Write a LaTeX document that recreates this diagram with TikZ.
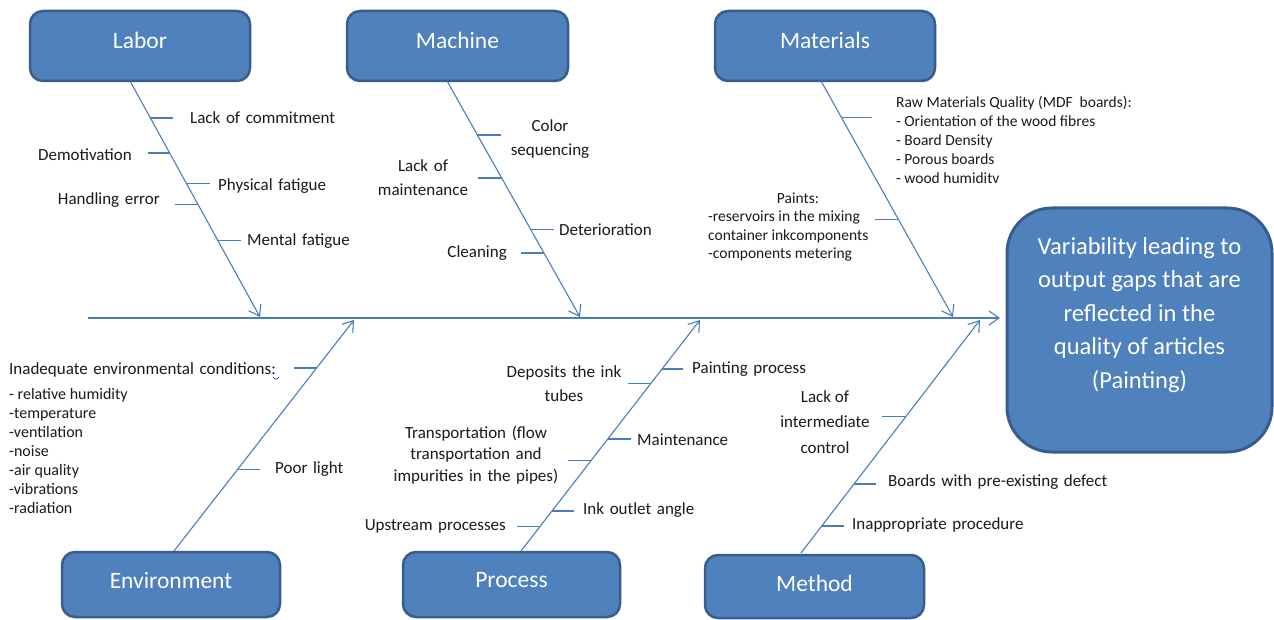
\documentclass[tikz,border=0pt]{standalone}
\usepackage{fontspec}
\setmainfont{Carlito}
\usetikzlibrary{arrows.meta,calc}
\definecolor{boxfill}{HTML}{4F81BD}
\definecolor{boxline}{HTML}{385D8A}
\definecolor{bone}{HTML}{4A7EBB}
\definecolor{txt}{HTML}{1A1A1A}
\definecolor{squig}{HTML}{2B3FD8}
\newcommand{\mywidesp}{\spaceskip=0.33em plus 0.1em\relax}
\begin{document}
\begin{tikzpicture}[x=1pt,y=-1pt,
 catbox/.style={draw=boxline, line width=2.5pt, fill=boxfill, rounded corners=13pt, inner sep=0pt},
 cattext/.style={text=white, font=\fontsize{23.5}{28}\selectfont, inner sep=0pt},
 bonepath/.style={draw=bone, line width=1.1pt},
 bonearrow/.style={bonepath, -{Straight Barb[length=10pt,width=14pt,line width=1.1pt]}},
 tickline/.style={draw=bone, line width=1.1pt},
 lbl/.style={text=txt, font=\fontsize{17}{24}\selectfont\mywidesp, inner sep=0pt},
 sm/.style={text=txt, font=\fontsize{15.5}{19}\selectfont, inner sep=0pt, align=left},
]
\fill[white] (0,0) rectangle (1274,620);
\useasboundingbox (0,0) rectangle (1274,620);

% category boxes
\node[catbox, minimum width=220pt, minimum height=70pt] (labor) at (140,46) {};
\node[cattext] (laborT) at (140,40) {Labor};
\node[catbox, minimum width=221pt, minimum height=70pt] (machine) at (457.5,46) {};
\node[cattext] (machineT) at (457.5,40) {Machine};
\node[catbox, minimum width=220pt, minimum height=70pt] (materials) at (825,46) {};
\node[cattext] (materialsT) at (825,40) {Materials};
\node[catbox, minimum width=218pt, minimum height=65pt] (env) at (171,584.5) {};
\node[cattext] (envT) at (171,580) {Environment};
\node[catbox, minimum width=217pt, minimum height=65pt] (process) at (511.5,584.5) {};
\node[cattext] (processT) at (511.5,580) {Process};
\node[catbox, minimum width=219pt, minimum height=63pt] (method) at (814.5,586.5) {};
\node[cattext] (methodT) at (814.5,583) {Method};

% effect box
\node[catbox, line width=3pt, rounded corners=45pt, minimum width=265pt, minimum height=244pt] (effect) at (1139.5,330) {};
\node[text=white, font=\fontsize{24.5}{33.5}\selectfont, align=center, inner sep=0pt] (effectT) at (1139.5,315)
 {Variability leading to\\output gaps that are\\reflected in the\\quality of articles\\(Painting)};

% spine
\coordinate (S0) at (88,318);
\coordinate (S1) at (1000,318);
\draw[bonearrow] (S0) -- (S1);

% bones
\coordinate (LA) at (130,81);  \coordinate (LB) at (260,317);
\coordinate (MA) at (447,81);  \coordinate (MB) at (580,317);
\coordinate (TA) at (821,81);  \coordinate (TB) at (953,317);
\coordinate (EA) at (174,551); \coordinate (EB) at (354,320);
\coordinate (PA) at (521,551); \coordinate (PB) at (700,320);
\coordinate (HA) at (801,553); \coordinate (HB) at (980,320);
\draw[bonearrow] (LA) -- (LB);
\draw[bonearrow] (MA) -- (MB);
\draw[bonearrow] (TA) -- (TB);
\draw[bonearrow] (EA) -- (EB);
\draw[bonearrow] (PA) -- (PB);
\draw[bonearrow] (HA) -- (HB);

% Labor causes
\draw[tickline] ($(LA)!.157!(LB)$) -- ++(23,0);
\draw[tickline] ($(LA)!.305!(LB)$) -- ++(-22,0);
\draw[tickline] ($(LA)!.436!(LB)$) -- ++(23,0);
\draw[tickline] ($(LA)!.525!(LB)$) -- ++(-23,0);
\draw[tickline] ($(LA)!.674!(LB)$) -- ++(23,0);
\node[lbl, anchor=west] (l1) at (190,118) {Lack of commitment};
\node[lbl, anchor=east] (l2) at (132,155) {Demotivation};
\node[lbl, anchor=west] (l3) at (218,186) {Physical fatigue};
\node[lbl, anchor=east] (l4) at (160,200) {Handling error};
\node[lbl, anchor=west] (l5) at (247,241) {Mental fatigue};

% Machine causes
\draw[tickline] ($(MA)!.229!(MB)$) -- ++(24,0);
\draw[tickline] ($(MA)!.411!(MB)$) -- ++(-24,0);
\draw[tickline] ($(MA)!.631!(MB)$) -- ++(23,0);
\draw[tickline] ($(MA)!.729!(MB)$) -- ++(-23,0);
\node[lbl, align=center] (m1) at (550,139) {Color\\sequencing};
\node[lbl, align=center] (m2) at (423,178) {Lack of\\maintenance};
\node[lbl, anchor=west] (m3) at (559,230) {Deterioration};
\node[lbl, anchor=east] (m4) at (507,253) {Cleaning};

% Materials causes
\draw[tickline] ($(TA)!.153!(TB)$) -- ++(31,0);
\draw[tickline] ($(TA)!.585!(TB)$) -- ++(-23,0);
\node[sm, anchor=west] (t1) at (896,140) {Raw Materials Quality (MDF\ \ boards):\\- Orientation of the wood fibres\\- Board Density\\- Porous boards\\- wood humiditv};
\node[sm] (t2) at (798,198) {Paints:};
\node[sm, font=\fontsize{15.5}{18.5}\selectfont, anchor=west] (t3) at (708,236) {-reservoirs in the mixing\\container inkcomponents\\-components metering};

% Environment causes
\draw[tickline] ($(EA)!.792!(EB)$) -- ++(-23,0);
\draw[tickline] ($(EA)!.351!(EB)$) -- ++(23,0);
\node[lbl, anchor=west] (e1) at (9,370) {Inadequate environmental conditions:};
\draw[squig, line width=0.8pt] (273,377) .. controls (275,380) and (277,380) .. (279,377);
\node[sm, font=\fontsize{16}{19}\selectfont, anchor=west] (e2) at (9,451) {- relative humidity\\-temperature\\-ventilation\\-noise\\-air quality\\-vibrations\\-radiation};
\node[lbl, anchor=west] (e3) at (275,469) {Poor light};

% Process causes
\draw[tickline] ($(PA)!.788!(PB)$) -- ++(21,0);
\draw[tickline] ($(PA)!.727!(PB)$) -- ++(-23,0);
\draw[tickline] ($(PA)!.485!(PB)$) -- ++(23,0);
\draw[tickline] ($(PA)!.390!(PB)$) -- ++(-23,0);
\draw[tickline] ($(PA)!.173!(PB)$) -- ++(22,0);
\draw[tickline] ($(PA)!.108!(PB)$) -- ++(-23,0);
\node[lbl, anchor=west] (p1) at (692,369) {Painting process};
\node[lbl, align=center] (p2) at (564,384) {Deposits the ink\\tubes};
\node[lbl, anchor=west] (p3) at (637,440) {Maintenance};
\node[lbl, align=center, font=\fontsize{17}{21.5}\selectfont\mywidesp] (p4) at (476,455) {Transportation (flow\\transportation and\\impurities in the pipes)};
\node[lbl, anchor=west] (p5) at (583,510) {Ink outlet angle};
\node[lbl, anchor=east] (p6) at (506,526) {Upstream processes};

% Method causes
\draw[tickline] ($(HA)!.584!(HB)$) -- ++(-24,0);
\draw[tickline] ($(HA)!.296!(HB)$) -- ++(22,0);
\draw[tickline] ($(HA)!.116!(HB)$) -- ++(22,0);
\node[lbl, align=center, font=\fontsize{17}{25.5}\selectfont] (h1) at (825,422) {Lack of\\intermediate\\control};
\node[lbl, anchor=west] (h2) at (888,482) {Boards with pre-existing defect};
\node[lbl, anchor=west] (h3) at (852,525) {Inappropriate procedure};
\end{tikzpicture}
\end{document}
